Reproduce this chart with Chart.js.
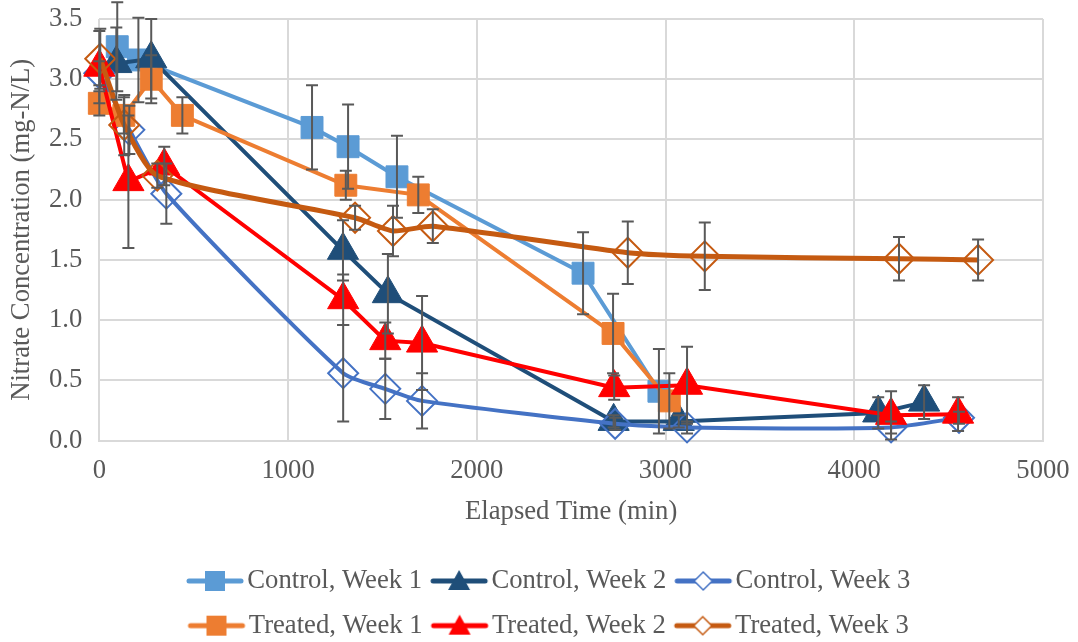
<!DOCTYPE html>
<html>
<head>
<meta charset="utf-8">
<script src="https://cdn.jsdelivr.net/npm/chart.js@4.4.1/dist/chart.umd.min.js"></script>
<style>
  html, body { margin: 0; padding: 0; background: #fff; }
</style>
</head>
<body>
<canvas id="nitrateChart" width="1078" height="642"></canvas>
<script>
// Elapsed time (min), nitrate (mg-N/L) and +/- error per series
const ctrlW1X = [95, 207, 1127, 1318, 1577, 2563, 2965];
const ctrlW1Y = [3.27, 3.16, 2.60, 2.44, 2.19, 1.39, 0.41];
const ctrlW1Err = [0.37, 0.35, 0.35, 0.35, 0.34, 0.34, 0.35];

const ctrlW2X = [90, 275, 1291, 1529, 2725, 3070, 4127, 4370];
const ctrlW2Y = [3.13, 3.17, 1.58, 1.22, 0.16, 0.16, 0.23, 0.32];
const ctrlW2Err = [0.30, 0.33, 0.25, 0.33, 0.05, 0.05, 0.13, 0.14];

const ctrlW3X = [0, 159, 355, 1292, 1515, 1710, 2733, 3114, 4195, 4555];
const ctrlW3Y = [3.05, 2.58, 2.05, 0.56, 0.43, 0.33, 0.14, 0.11, 0.11, 0.19];
const ctrlW3Err = [0.10, 0.20, 0.25, 0.40, 0.25, 0.23, 0.05, 0.05, 0.05, 0.05];

const trtW1X = [0, 130, 275, 440, 1306, 1690, 2722, 3020];
const trtW1Y = [2.80, 2.70, 3.00, 2.70, 2.12, 2.04, 0.89, 0.33];
const trtW1Err = [0.10, 0.15, 0.20, 0.15, 0.12, 0.15, 0.33, 0.23];

const trtW2X = [0, 154, 344, 1292, 1515, 1710, 2728, 3114, 4195, 4550];
const trtW2Y = [3.10, 2.15, 2.28, 1.17, 0.83, 0.81, 0.44, 0.46, 0.21, 0.22];
const trtW2Err = [0.30, 0.55, 0.16, 0.21, 0.15, 0.39, 0.10, 0.32, 0.20, 0.14];

const trtW3X = [5, 132, 307, 1355, 1556, 1767, 2800, 3208, 4237, 4656];
const trtW3Y = [3.17, 2.62, 2.20, 1.85, 1.74, 1.78, 1.56, 1.53, 1.51, 1.50];
const trtW3Err = [0.25, 0.25, 0.10, 0.10, 0.21, 0.14, 0.26, 0.28, 0.18, 0.17];

const seriesNames = ['Control, Week 1', 'Control, Week 2', 'Control, Week 3',
                     'Treated, Week 1', 'Treated, Week 2', 'Treated, Week 3'];
const seriesColors = ['#5B9BD5', '#1F4E79', '#4472C4', '#ED7D31', '#FF0000', '#C55A11'];
const seriesStyles = ['rect', 'triangle', 'rectRot', 'rect', 'triangle', 'rectRot'];

const xTicks = [0, 1000, 2000, 3000, 4000, 5000];
const yTicks = [0, 0.5, 1, 1.5, 2, 2.5, 3, 3.5];

const seriesX = [ctrlW1X, ctrlW2X, ctrlW3X, trtW1X, trtW2X, trtW3X];
const seriesY = [ctrlW1Y, ctrlW2Y, ctrlW3Y, trtW1Y, trtW2Y, trtW3Y];
const seriesErr = [ctrlW1Err, ctrlW2Err, ctrlW3Err, trtW1Err, trtW2Err, trtW3Err];

const TEXT = '#595959';
const GRID = '#D9D9D9';
const FONT_SIZE = 26.67;

Chart.defaults.font.family = '"Liberation Serif", "Times New Roman", serif';
Chart.defaults.font.size = FONT_SIZE;
Chart.defaults.color = TEXT;

const markerRadius = { rect: 15.5, triangle: 18, rectRot: 15 };

/* kleines Bild für den Legendeneintrag: Linie mit Marker */
function legendSample(color, style) {
    const c = document.createElement('canvas');
    c.width = 60;
    c.height = 28;
    const g = c.getContext('2d');
    g.strokeStyle = color;
    g.lineWidth = 5;
    g.lineCap = 'round';
    g.beginPath();
    g.moveTo(4, 14);
    g.lineTo(56, 14);
    g.stroke();
    g.fillStyle = color;
    g.beginPath();
    if (style === 'rect') {
        g.rect(20, 4, 20, 20);
        g.fill();
    } else if (style === 'triangle') {
        g.moveTo(30, 3);
        g.lineTo(41, 23);
        g.lineTo(19, 23);
        g.closePath();
        g.fill();
    } else {
        g.moveTo(30, 5);
        g.lineTo(39, 14);
        g.lineTo(30, 23);
        g.lineTo(21, 14);
        g.closePath();
        g.fillStyle = '#fff';
        g.fill();
        g.lineWidth = 1.5;
        g.stroke();
    }
    return c;
}

const datasets = seriesNames.map((name, i) => {
    const style = seriesStyles[i];
    const hollow = style === 'rectRot';
    return {
        label: name,
        data: seriesX[i].map((x, k) => ({ x, y: seriesY[i][k] })),
        errors: seriesErr[i],
        borderColor: seriesColors[i],
        backgroundColor: seriesColors[i],
        borderWidth: i === 5 ? 5 : 4,
        showLine: true,
        tension: hollow ? 0.2 : 0,
        pointStyle: style,
        pointRadius: markerRadius[style],
        pointHoverRadius: markerRadius[style],
        pointBackgroundColor: hollow ? 'rgba(0,0,0,0)' : seriesColors[i],
        pointBorderColor: seriesColors[i],
        pointBorderWidth: hollow ? 2 : 1,
        clip: false,
        order: seriesNames.length - i
    };
});

const legendSamples = seriesNames.map((n, i) => legendSample(seriesColors[i], seriesStyles[i]));

/* Fehlerbalken über allen Reihen */
const errorBars = {
    id: 'errorBars',
    afterDatasetsDraw(chart) {
        const { ctx, scales: { x, y } } = chart;
        ctx.save();
        ctx.strokeStyle = TEXT;
        ctx.lineWidth = 2;
        chart.data.datasets.forEach((ds) => {
            ds.data.forEach((pt, k) => {
                const e = ds.errors[k];
                const px = x.getPixelForValue(pt.x);
                const top = y.getPixelForValue(pt.y + e);
                const bot = y.getPixelForValue(pt.y - e);
                ctx.beginPath();
                ctx.moveTo(px, top);
                ctx.lineTo(px, bot);
                ctx.moveTo(px - 6, top);
                ctx.lineTo(px + 6, top);
                ctx.moveTo(px - 6, bot);
                ctx.lineTo(px + 6, bot);
                ctx.stroke();
            });
        });
        ctx.restore();
    }
};

/* Legende etwas nach links/unten rücken, wie im Original */
const legendNudge = {
    id: 'legendNudge',
    afterLayout(chart) {
        const lg = chart.legend;
        if (!lg) return;
        lg.left -= 18;
        lg.right -= 18;
        lg.top += 7;
        lg.bottom += 7;
    }
};

new Chart(document.getElementById('nitrateChart').getContext('2d'), {
    type: 'scatter',
    data: { datasets },
    plugins: [errorBars, legendNudge],
    options: {
        responsive: false,
        animation: false,
        devicePixelRatio: 1,
        layout: { padding: { left: 0, right: 35, top: 2, bottom: 0 } },
        plugins: {
            tooltip: { enabled: false },
            legend: {
                position: 'bottom',
                fullSize: false,
                labels: {
                    usePointStyle: true,
                    pointStyleWidth: 38,
                    padding: 18,
                    color: TEXT,
                    font: { size: FONT_SIZE },
                    generateLabels: (chart) => chart.data.datasets.map((ds, i) => ({
                        text: ds.label,
                        pointStyle: legendSamples[i],
                        fillStyle: ds.borderColor,
                        strokeStyle: ds.borderColor,
                        lineWidth: 0,
                        fontColor: TEXT,
                        hidden: false,
                        datasetIndex: i
                    }))
                }
            }
        },
        scales: {
            x: {
                type: 'linear',
                min: xTicks[0],
                max: xTicks[xTicks.length - 1],
                afterBuildTicks: (s) => { s.ticks = xTicks.map((v) => ({ value: v })); },
                grid: { color: GRID, lineWidth: 2, drawTicks: true, tickLength: 13, tickColor: 'rgba(0,0,0,0)' },
                border: { color: GRID, width: 2 },
                ticks: { padding: 1, color: TEXT, callback: (v) => String(v) },
                title: {
                    display: true,
                    text: 'Elapsed Time (min)',
                    color: TEXT,
                    padding: { top: 8, bottom: 15 }
                }
            },
            y: {
                min: yTicks[0],
                max: yTicks[yTicks.length - 1],
                afterBuildTicks: (s) => { s.ticks = yTicks.map((v) => ({ value: v })); },
                grid: { color: GRID, lineWidth: 2, drawTicks: true, tickLength: 16, tickColor: 'rgba(0,0,0,0)' },
                border: { display: false },
                ticks: { padding: 1, color: TEXT, callback: (v) => Number(v).toFixed(1) },
                title: {
                    display: true,
                    text: 'Nitrate Concentration (mg-N/L)',
                    color: TEXT,
                    padding: { top: 6, bottom: 10 }
                }
            }
        }
    }
});
</script>
</body>
</html>
